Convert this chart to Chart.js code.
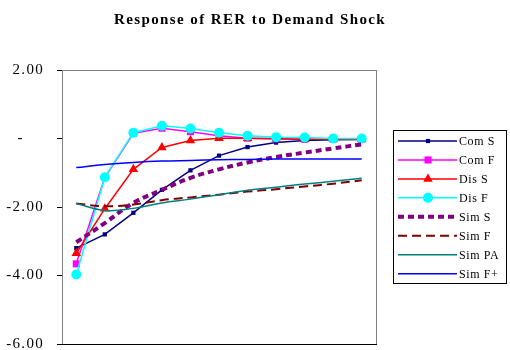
<!DOCTYPE html>
<html>
<head>
<meta charset="utf-8">
<script src="https://cdn.jsdelivr.net/npm/chart.js@4.4.0/dist/chart.umd.min.js"></script>
<style>
    html, body { margin: 0; padding: 0; background: #fff; }
    #wrap { width: 510px; height: 350px; position: relative; }
</style>
</head>
<body>
<div id="wrap"><canvas id="rerChart" width="510" height="350"></canvas></div>
<script>
// periods after the shock (no labels shown on the x axis)
const periods = ['1', '2', '3', '4', '5', '6', '7', '8', '9', '10', '11'];

const comS = [-3.20, -2.80, -2.17, -1.50, -0.93, -0.50, -0.25, -0.12, -0.06, -0.04, -0.03];
const comF = [-3.66, -1.14, 0.15, 0.30, 0.20, 0.08, 0.01, -0.01, -0.02, -0.02, -0.02];
const disS = [-3.35, -2.05, -0.90, -0.26, -0.06, 0.01, 0.01, -0.01, -0.02, -0.02, -0.02];
const disF = [-3.97, -1.13, 0.17, 0.37, 0.29, 0.17, 0.08, 0.04, 0.03, 0.00, 0.00];
const simS = [-3.03, -2.47, -1.88, -1.50, -1.15, -0.90, -0.70, -0.54, -0.41, -0.29, -0.17];
const simF = [-1.90, -1.98, -1.93, -1.80, -1.72, -1.64, -1.55, -1.48, -1.40, -1.32, -1.22];
const simPA = [-1.90, -2.10, -2.04, -1.88, -1.77, -1.64, -1.51, -1.42, -1.33, -1.25, -1.16];
const simFplus = [-0.85, -0.76, -0.70, -0.66, -0.64, -0.62, -0.61, -0.60, -0.60, -0.60, -0.60];

const titleText = 'Response of RER to Demand Shock';
const yTicks = [2, 0, -2, -4, -6];

function lineSet(label, data, color, extra) {
    return Object.assign({
        label: label,
        data: data,
        borderColor: color,
        backgroundColor: color,
        borderWidth: 1.5,
        pointRadius: 0,
        pointBorderWidth: 0,
        tension: 0,
        fill: false
    }, extra || {});
}

const datasets = [
    lineSet('Com S', comS, '#000080', { pointStyle: 'rect', pointRadius: 3 }),
    lineSet('Com F', comF, '#FF00FF', { pointStyle: 'rect', pointRadius: 5 }),
    lineSet('Dis S', disS, '#FF0000', { pointStyle: 'triangle', pointRadius: 5.5 }),
    lineSet('Dis F', disF, '#00FFFF', { pointStyle: 'circle', pointRadius: 5 }),
    lineSet('Sim S', simS, '#800080', { borderWidth: 4, borderDash: [6, 4], tension: 0.4 }),
    lineSet('Sim F', simF, '#800000', { borderWidth: 2, borderDash: [9, 5], tension: 0.4 }),
    lineSet('Sim PA', simPA, '#008080', { tension: 0.4 }),
    lineSet('Sim F+', simFplus, '#0000FF', { tension: 0.4 })
];
// later series on top, as in the original
datasets.forEach((d, i) => { d.order = datasets.length - i; });

// title, plot frame and boxed legend
const decor = {
    id: 'decor',
    beforeDraw(chart) {
        // the axis labels are drawn letter-spaced
        chart.ctx.letterSpacing = '1.3px';
    },
    beforeDatasetsDraw(chart) {
        const ctx = chart.ctx;
        const a = chart.chartArea;
        ctx.save();
        ctx.strokeStyle = '#808080';
        ctx.lineWidth = 1;
        ctx.strokeRect(Math.round(a.left) + 0.5, Math.round(a.top) + 0.5,
            Math.round(a.right - a.left), Math.round(a.bottom - a.top));
        ctx.strokeStyle = '#000';
        ctx.beginPath();
        ctx.moveTo(Math.round(a.left), Math.round(a.bottom) + 0.5);
        ctx.lineTo(Math.round(a.right) + 1, Math.round(a.bottom) + 0.5);
        ctx.stroke();
        ctx.restore();
    },
    afterDraw(chart) {
        const ctx = chart.ctx;
        ctx.save();
        // title
        ctx.fillStyle = '#000';
        ctx.font = 'bold 15px "Liberation Serif"';
        ctx.letterSpacing = '1.4px';
        ctx.textAlign = 'center';
        ctx.textBaseline = 'middle';
        ctx.fillText(titleText, 250, 20);

        // legend box
        const bx = 393, by = 130, bw = 113, bh = 153;
        ctx.strokeStyle = '#000';
        ctx.lineWidth = 1;
        ctx.strokeRect(bx + 0.5, by + 0.5, bw, bh);
        ctx.font = '12px "Liberation Serif"';
        ctx.letterSpacing = '0.6px';
        ctx.textAlign = 'left';
        chart.data.datasets.forEach((ds, i) => {
            const y = 141 + i * 18.95;
            ctx.save();
            ctx.strokeStyle = ds.borderColor;
            ctx.lineWidth = ds.borderWidth;
            ctx.setLineDash(ds.borderDash || []);
            ctx.beginPath();
            ctx.moveTo(398, y);
            ctx.lineTo(457, y);
            ctx.stroke();
            ctx.restore();
            if (ds.pointRadius > 0) {
                ctx.save();
                ctx.fillStyle = ds.backgroundColor;
                ctx.strokeStyle = ds.backgroundColor;
                Chart.helpers.drawPoint(ctx, {
                    pointStyle: ds.pointStyle,
                    radius: ds.pointRadius,
                    rotation: 0,
                    borderWidth: 0
                }, 428, y);
                ctx.restore();
            }
            ctx.fillStyle = '#000';
            ctx.fillText(ds.label, 459, y + 1);
        });
        ctx.restore();
    }
};

const ctx = document.getElementById('rerChart').getContext('2d');
const rerChart = new Chart(ctx, {
    type: 'line',
    data: {
        labels: periods,
        datasets: datasets
    },
    options: {
        responsive: false,
        animation: false,
        layout: {
            padding: { top: 70, right: 134, bottom: 6, left: 0 }
        },
        plugins: {
            legend: { display: false },
            title: { display: false },
            tooltip: { enabled: false }
        },
        scales: {
            x: {
                type: 'category',
                offset: true,
                display: false
            },
            y: {
                min: -6,
                max: 2,
                afterFit(scale) {
                    scale.width = 62;
                    scale.paddingTop = 0;
                    scale.paddingBottom = 0;
                },
                afterBuildTicks(scale) {
                    scale.ticks = yTicks.map(v => ({ value: v }));
                },
                ticks: {
                    color: '#000',
                    padding: 13,
                    font: { family: '"Liberation Serif"', size: 15 },
                    callback: v => v === 0 ? '-    ' : v.toFixed(2)
                },
                grid: {
                    drawOnChartArea: false,
                    drawTicks: true,
                    tickLength: 5,
                    color: '#000'
                },
                border: { display: true, color: '#000' }
            }
        }
    },
    plugins: [decor]
});
</script>
</body>
</html>
